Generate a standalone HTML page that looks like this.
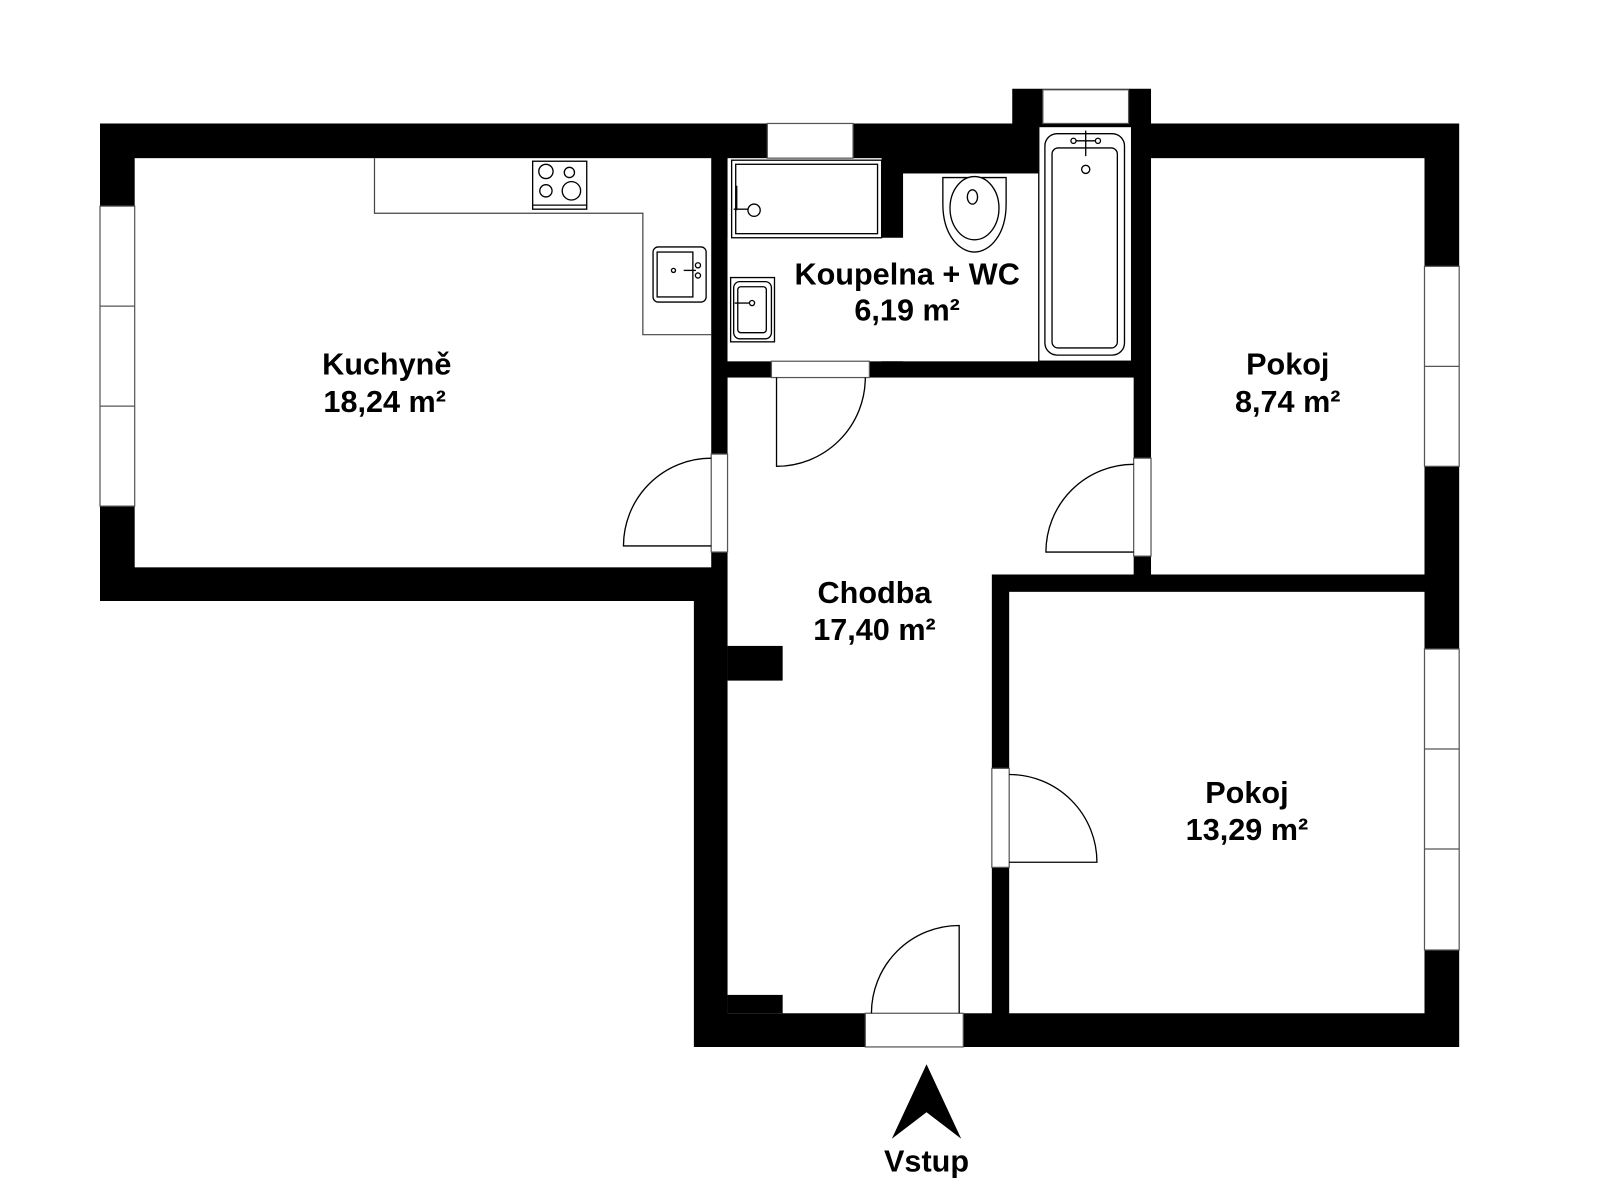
<!DOCTYPE html>
<html><head><meta charset="utf-8"><style>
html,body{margin:0;padding:0;background:#fff;width:1600px;height:1200px;overflow:hidden}
svg{display:block}
text{font-family:"Liberation Sans",sans-serif;font-weight:bold;font-size:30px;fill:#000;text-anchor:middle}
</style></head><body>
<svg width="1600" height="1200" viewBox="0 0 1568 1176" xmlns="http://www.w3.org/2000/svg">
<path d="M98,121 H992 V87 H1128 V121 H1430 V1026 H680 V589 H98 Z" fill="#000"/>
<g fill="#fff">
<rect x="132" y="155" width="565" height="401"/>
<rect x="713" y="155" width="151" height="199"/>
<rect x="713" y="233" width="306" height="121"/>
<rect x="885" y="170" width="134" height="184"/>
<rect x="713" y="370" width="398" height="193"/>
<rect x="713" y="563" width="259" height="430"/>
<rect x="1128" y="155" width="268" height="408"/>
<rect x="989" y="580" width="407" height="413"/>
</g>
<rect x="713" y="633" width="54" height="34" fill="#000"/>
<rect x="713" y="975" width="54" height="18" fill="#000"/>
<g fill="#fff" stroke="#555" stroke-width="1.2">
<rect x="98" y="202" width="34" height="294"/>
<line x1="98" y1="300" x2="132" y2="300"/><line x1="98" y1="398" x2="132" y2="398"/>
<rect x="752" y="121" width="84" height="34"/>
<rect x="1022" y="88" width="84" height="33"/>
<rect x="1396" y="261" width="34" height="196"/>
<line x1="1396" y1="359" x2="1430" y2="359"/>
<rect x="1396" y="636" width="34" height="295"/>
<line x1="1396" y1="734" x2="1430" y2="734"/><line x1="1396" y1="832" x2="1430" y2="832"/>
<rect x="697" y="445" width="16" height="96"/>
<rect x="756" y="354" width="96" height="16"/>
<rect x="1111" y="449" width="17" height="96"/>
<rect x="972" y="753" width="17" height="97"/>
<rect x="848" y="993" width="96" height="33"/>
</g>
<g fill="none" stroke="#000" stroke-width="1.3">
<path d="M697,535 H611 A86,86 0 0 1 697,449"/>
<path d="M761,370 V457 A87,87 0 0 0 848,370"/>
<path d="M1111,541 H1025 A86,86 0 0 1 1111,455"/>
<path d="M989,845 H1075 A86,86 0 0 0 989,759"/>
<path d="M940,993 V907 A86,86 0 0 0 854,993"/>
</g>
<path d="M367,155 V209 H630 V328 H697" fill="none" stroke="#444" stroke-width="1.2"/>
<g fill="#fff" stroke="#000" stroke-width="1.3">
<rect x="522" y="158" width="53" height="47"/>
<line x1="522" y1="201" x2="575" y2="201"/>
<circle cx="535" cy="168" r="7"/><circle cx="558" cy="169" r="5"/>
<circle cx="535" cy="187" r="6"/><circle cx="560" cy="187" r="9"/>
<rect x="640" y="242" width="52" height="54" rx="5"/>
<rect x="644" y="247" width="35" height="44"/>
<circle cx="660" cy="265" r="2"/><line x1="670" y1="265" x2="682" y2="265"/>
<circle cx="684" cy="260" r="2.5"/><circle cx="684" cy="270" r="2.5"/>
<rect x="716" y="272" width="43" height="63"/>
<rect x="719" y="276" width="37" height="56" rx="6"/>
<rect x="723" y="281" width="28" height="45" rx="3"/>
<line x1="720" y1="297" x2="734" y2="297"/><circle cx="737" cy="297" r="2.5"/>
<rect x="717" y="157" width="147" height="76"/>
<rect x="721" y="161" width="139" height="68"/>
<circle cx="739" cy="206" r="6"/><line x1="719" y1="205" x2="733" y2="205"/>
<line x1="722" y1="182" x2="722" y2="206"/>
<path d="M924,174 H986 V200 C986,230 970,247 955,247 C940,247 924,230 924,200 Z"/>
<ellipse cx="955" cy="204" rx="24" ry="31"/>
<ellipse cx="953" cy="193" rx="5" ry="7"/>
<rect x="1018" y="124" width="91" height="230" fill="#fff"/>
<rect x="1024" y="131" width="78" height="217" rx="12"/>
<rect x="1031" y="145" width="64" height="196" rx="6"/>
<circle cx="1064" cy="166" r="4"/>
<line x1="1064" y1="128" x2="1064" y2="153"/><line x1="1050" y1="138" x2="1078" y2="138"/>
<circle cx="1052" cy="138" r="2.5"/><circle cx="1076" cy="138" r="2.5"/>
</g>
<text x="379" y="367">Kuchyně</text><text x="377" y="404">18,24 m²</text>
<text x="889" y="279">Koupelna + WC</text><text x="889" y="314">6,19 m²</text>
<text x="1262" y="367">Pokoj</text><text x="1262" y="404">8,74 m²</text>
<text x="857" y="591">Chodba</text><text x="857" y="627">17,40 m²</text>
<text x="1222" y="787">Pokoj</text><text x="1222" y="823">13,29 m²</text>
<path d="M908,1043 L942,1116 L908,1090 L874,1116 Z" fill="#000"/>
<text x="908" y="1148">Vstup</text>
</svg>
</body></html>
